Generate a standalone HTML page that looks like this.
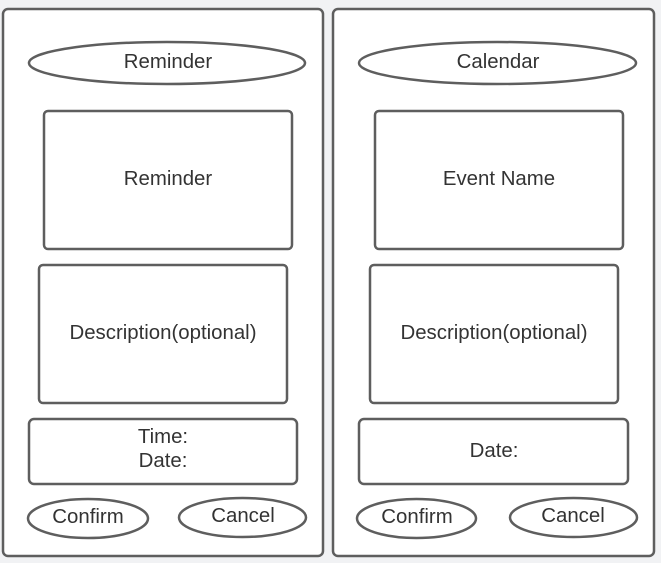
<!DOCTYPE html>
<html><head><style>html,body{margin:0;padding:0;background:#f1f2f4;}svg{display:block}</style></head>
<body>
<svg width="661" height="563" xmlns="http://www.w3.org/2000/svg" font-family="Liberation Sans, sans-serif" font-size="20.4" fill="#333">
<g stroke="#5e5e5e" stroke-width="2.5" fill="#fff">
<rect x="3" y="9" width="320" height="547" rx="5"/>
<rect x="333" y="9" width="321" height="547" rx="5"/>
<ellipse cx="167" cy="63" rx="138" ry="21"/>
<rect x="44" y="111" width="248" height="138" rx="4"/>
<rect x="39" y="265" width="248" height="138" rx="4"/>
<rect x="29" y="419" width="268" height="65" rx="5"/>
<ellipse cx="88" cy="518.5" rx="60" ry="19.5"/>
<ellipse cx="242.5" cy="517.5" rx="63.5" ry="19.5"/>
<ellipse cx="497.5" cy="63" rx="138.5" ry="21"/>
<rect x="375" y="111" width="248" height="138" rx="4"/>
<rect x="370" y="265" width="248" height="138" rx="4"/>
<rect x="359" y="419" width="269" height="65" rx="5"/>
<ellipse cx="416.5" cy="518.5" rx="59.5" ry="19.5"/>
<ellipse cx="573.5" cy="517.5" rx="63.5" ry="19.5"/>
</g>
<g text-anchor="middle" fill="#333">
<text x="168" y="68">Reminder</text>
<text x="168" y="185">Reminder</text>
<text x="163" y="339">Description(optional)</text>
<text x="163" y="443">Time:</text>
<text x="163" y="467">Date:</text>
<text x="88" y="523">Confirm</text>
<text x="243" y="522">Cancel</text>
<text x="498" y="68">Calendar</text>
<text x="499" y="185">Event Name</text>
<text x="494" y="339">Description(optional)</text>
<text x="494" y="457">Date:</text>
<text x="417" y="523">Confirm</text>
<text x="573" y="522">Cancel</text>
</g>
</svg>
</body></html>
